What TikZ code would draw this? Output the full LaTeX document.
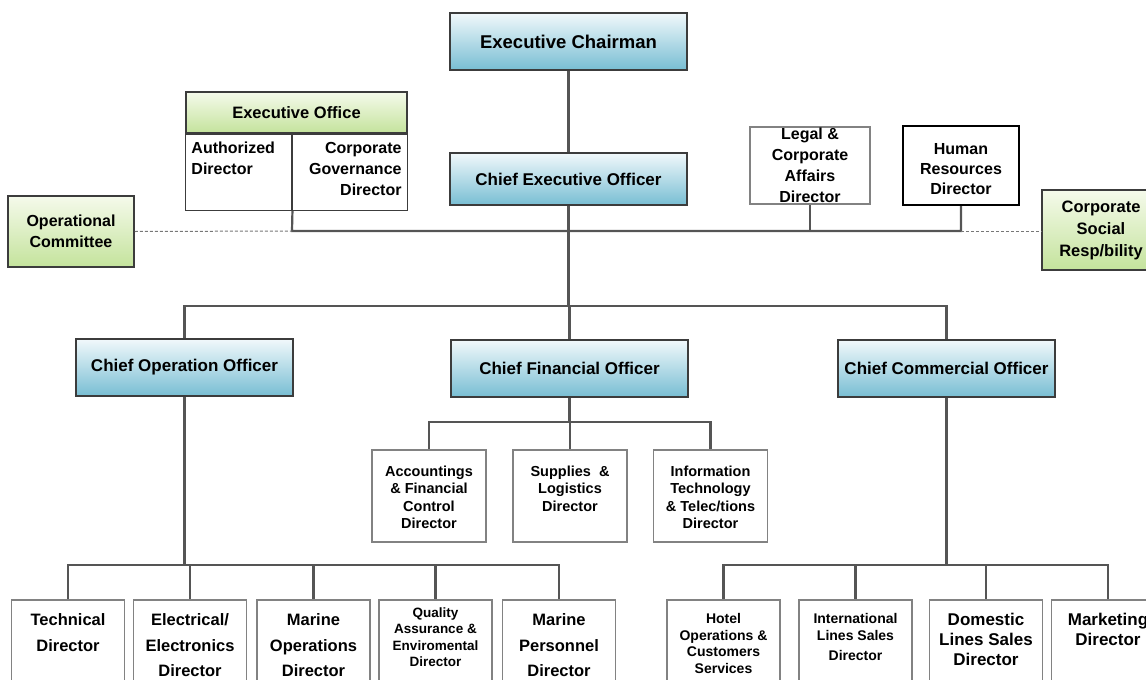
\documentclass[tikz,border=0pt]{standalone}
\usepackage{fontspec}
\setmainfont{Liberation Sans}
\usetikzlibrary{positioning}
\definecolor{HeadTop}{RGB}{241,248,251}
\definecolor{HeadBot}{RGB}{120,190,211}
\definecolor{OfficeTop}{RGB}{245,250,235}
\definecolor{OfficeBot}{RGB}{196,227,156}
\definecolor{EdgeGray}{RGB}{60,60,60}
\definecolor{BoxGray}{RGB}{130,130,130}
\definecolor{LineGray}{RGB}{85,85,85}

\begin{document}
\begin{tikzpicture}[x=1pt,y=-1pt,
    head/.style={draw=EdgeGray,line width=1.5pt,top color=HeadTop,bottom color=HeadBot,inner sep=0pt,font=\bfseries\fontsize{17}{20}\selectfont},
    office/.style={draw=EdgeGray,line width=1.5pt,top color=OfficeTop,bottom color=OfficeBot,inner sep=0pt,align=center,font=\bfseries\fontsize{16}{21.5}\selectfont},
    dirbox/.style={draw=BoxGray,line width=1.2pt,fill=white,inner sep=0pt},
    toptext/.style={inner sep=0pt,align=center,font=\bfseries\fontsize{16}{21}\selectfont},
    midtext/.style={inner sep=0pt,align=center,font=\bfseries\fontsize{14.5}{17.5}\selectfont},
    bottext/.style={inner sep=0pt,align=center,font=\bfseries\fontsize{16.5}{25.5}\selectfont},
    smalltext/.style={inner sep=0pt,align=center,font=\bfseries\fontsize{13.5}{16.5}\selectfont},
    link/.style={draw=LineGray,line width=2.2pt},
    dotlink/.style={draw=LineGray!80,line width=1pt,dash pattern=on 3pt off 2pt}]
  \useasboundingbox (0,0) rectangle (1146,680);
  \clip (0,0) rectangle (1146,680);

  % top of the chart
  \node[head,minimum width=237,minimum height=57,font=\bfseries\fontsize{18.5}{22}\selectfont] (chair) at (568.5,41.5) {Executive Chairman};
  \node[head,minimum width=237,minimum height=52] (ceo) at (568.5,179) {Chief Executive Officer};

  % executive office
  \node[office,minimum width=221,minimum height=41,font=\bfseries\fontsize{16.5}{20}\selectfont] (exoff) at (296.5,112.5) {Executive Office};
  \node[dirbox,draw=EdgeGray,anchor=north west,minimum width=106,minimum height=76] (auth) at (exoff.south west) {};
  \node[dirbox,draw=EdgeGray,anchor=north east,minimum width=115,minimum height=76] (cgov) at (exoff.south east) {};
  \node[toptext,align=left,below right=8pt and 6pt of auth.north west] (authT) {Authorized\\Director};
  \node[toptext,align=right,below left=8pt and 6pt of cgov.north east] (cgovT) {Corporate\\Governance\\Director};

  % staff directors and committees
  \node[dirbox,minimum width=120,minimum height=77] (legal) at (810,165.5) {};
  \node[toptext] (legalT) at (legal.center) {Legal \&\\Corporate\\Affairs\\Director};
  \node[dirbox,draw=black,line width=2pt,minimum width=116,minimum height=79] (hr) at (961,165.5) {};
  \node[toptext,font=\bfseries\fontsize{16}{20}\selectfont] (hrT) at ([yshift=-4pt]hr.center) {Human\\Resources\\Director};
  \node[office,minimum width=126,minimum height=71] (opcom) at (71,231.5) {Operational\\Committee};
  \node[office,minimum width=118,minimum height=80,font=\bfseries\fontsize{16.5}{22}\selectfont] (csr) at (1101,230) {Corporate\\Social\\Resp/bility};

  \coordinate (staffL) at (292,231);
  \coordinate (staffR) at (961,231);
  \draw[link] (auth.south east) -- (staffL) -- (staffR) -- (hr.south);
  \draw[link] (legal.south) -- (legal.south |- staffL);
  \draw[dotlink] (opcom.east) -- (staffL);
  \draw[dotlink] (staffR) -- (csr.west |- staffR);

  % chiefs
  \node[head,minimum width=217,minimum height=57] (coo) at (184.5,367.5) {Chief Operation Officer};
  \node[head,minimum width=237,minimum height=57] (cfo) at (569.5,368.5) {Chief Financial Officer};
  \node[head,minimum width=217,minimum height=57] (cco) at (946.5,368.5) {Chief Commercial Officer};

  \coordinate (ceoBus) at (568.5,306);
  \draw[link] (chair) -- (ceo);
  \draw[link] (ceo.south) -- (ceoBus);
  \foreach \b in {coo,cfo,cco}
    \draw[link] (ceoBus) -| (\b.north);

  % finance directors
  \foreach \nm/\cx/\txt in {acc/429/{Accountings\\\& Financial\\Control\\Director},
      sup/570/{Supplies~~\&\\Logistics\\Director},
      info/710.5/{Information\\Technology\\\& Telec/tions\\Director}}{
    \node[dirbox,minimum width=114,minimum height=92] (\nm) at (\cx,496) {};
    \node[midtext,below=16pt of \nm.north] (\nm T) {\txt};
  }
  \coordinate (cfoBus) at (569.5,422);
  \draw[link] (cfo.south) -- (cfoBus);
  \foreach \b in {acc,sup,info}
    \draw[link] (cfoBus) -| (\b.north);

  % operation directors
  \foreach \nm/\cx/\txt in {tech/68/{Technical\\Director},
      elec/190/{Electrical/\\Electronics\\Director},
      mops/313.5/{Marine\\Operations\\Director},
      mpers/559/{Marine\\Personnel\\Director}}{
    \node[dirbox,minimum width=113,minimum height=120] (\nm) at (\cx,660) {};
    \node[bottext,below=14pt of \nm.north] (\nm T) {\txt};
  }
  \node[dirbox,minimum width=113,minimum height=120] (qual) at (435.5,660) {};
  \node[smalltext,below=8pt of qual.north] (qualT) {Quality\\Assurance \&\\Enviromental\\Director};
  \coordinate (cooBus) at (184.5,565);
  \draw[link] (coo.south) -- (cooBus);
  \foreach \b in {tech,elec,mops,qual,mpers}
    \draw[link] (cooBus) -| (\b.north);

  % commercial directors
  \foreach \nm/\cx/\txt in {hotel/723.5/{Hotel\\Operations \&\\Customers\\Services},
      intl/855.5/{International\\Lines Sales\\[4pt]Director}}{
    \node[dirbox,minimum width=113,minimum height=120] (\nm) at (\cx,660) {};
    \node[smalltext,font=\bfseries\fontsize{14}{16.5}\selectfont,below=14pt of \nm.north] (\nm T) {\txt};
  }
  \foreach \nm/\cx/\txt in {dom/986/{Domestic\\Lines Sales\\Director},
      mkt/1108/{Marketing\\Director}}{
    \node[dirbox,minimum width=113,minimum height=120] (\nm) at (\cx,660) {};
    \node[bottext,font=\bfseries\fontsize{17}{20}\selectfont,below=14pt of \nm.north] (\nm T) {\txt};
  }
  \coordinate (ccoBus) at (946.5,565);
  \draw[link] (cco.south) -- (ccoBus);
  \foreach \b in {hotel,intl,dom,mkt}
    \draw[link] (ccoBus) -| (\b.north);
\end{tikzpicture}
\end{document}
